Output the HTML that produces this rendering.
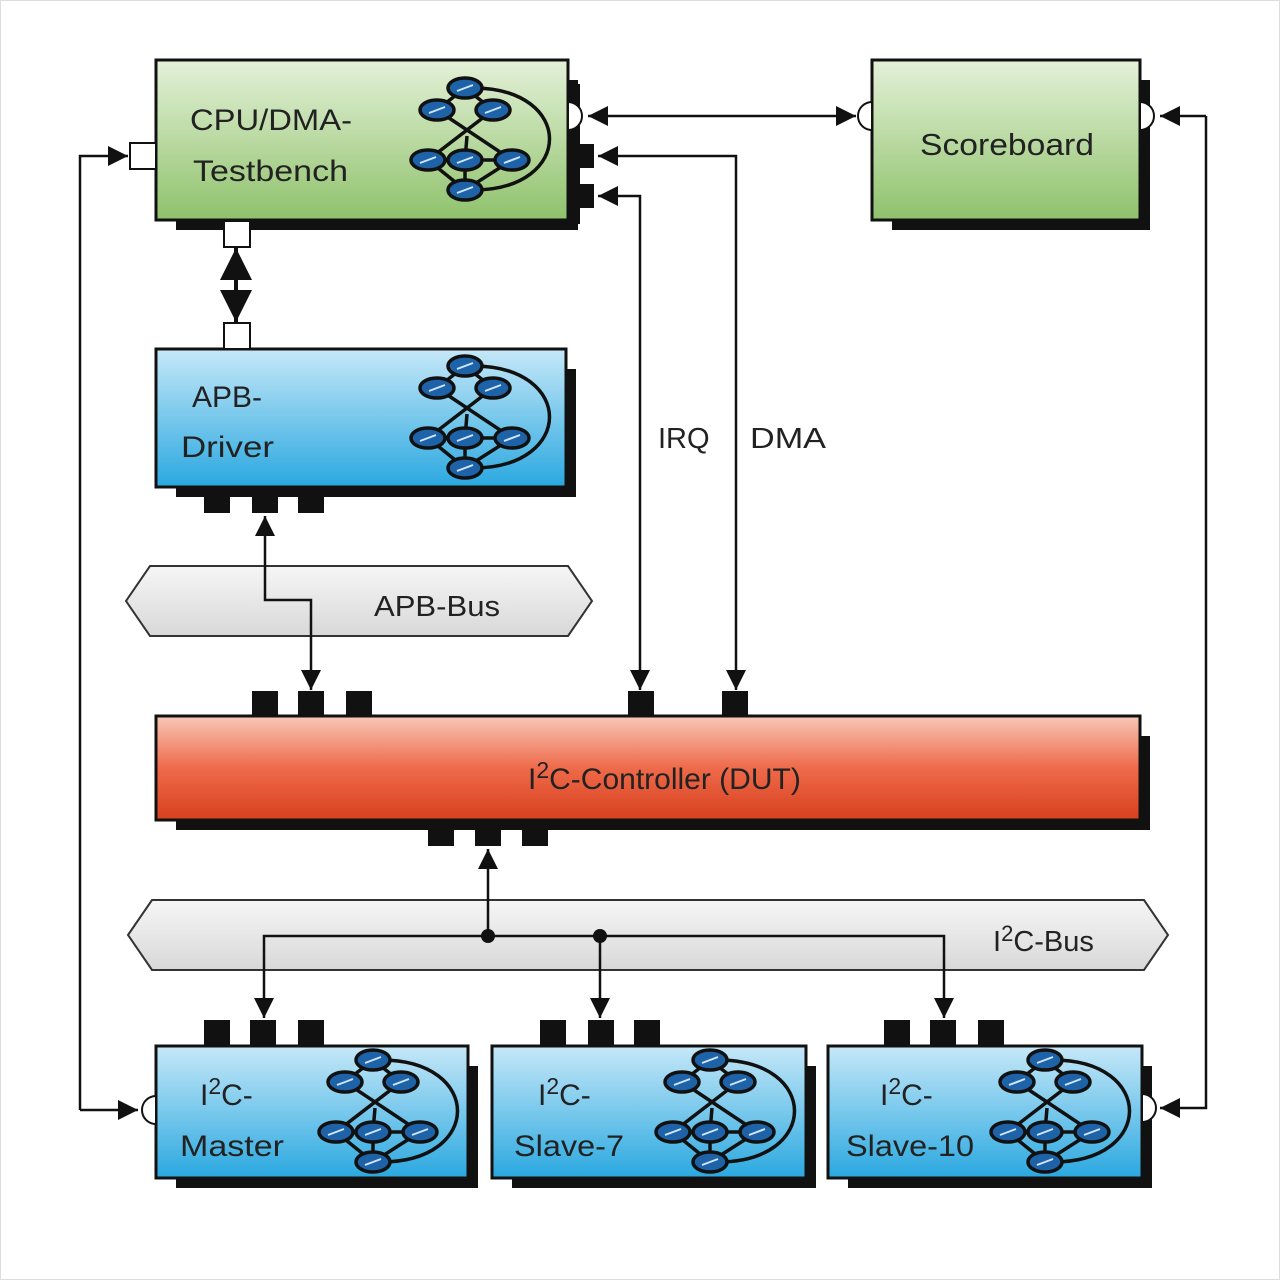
<!DOCTYPE html>
<html><head><meta charset="utf-8"><style>
html,body{margin:0;padding:0;background:#fff}
svg{display:block}
text{font-family:"Liberation Sans",sans-serif;fill:#222}
</style></head><body>
<svg width="1280" height="1280" viewBox="0 0 1280 1280" xmlns="http://www.w3.org/2000/svg">
<defs>
<linearGradient id="g" x1="0" y1="0" x2="0" y2="1"><stop offset="0" stop-color="#e4f1d8"/><stop offset="1" stop-color="#8fc26c"/></linearGradient>
<linearGradient id="b" x1="0" y1="0" x2="0" y2="1"><stop offset="0" stop-color="#c6e8f8"/><stop offset="1" stop-color="#2aa8e0"/></linearGradient>
<linearGradient id="r" x1="0" y1="0" x2="0" y2="1"><stop offset="0" stop-color="#f8c8b8"/><stop offset="0.5" stop-color="#ee6a4a"/><stop offset="1" stop-color="#d8401e"/></linearGradient>
<linearGradient id="gr" x1="0" y1="0" x2="0" y2="1"><stop offset="0" stop-color="#f6f6f6"/><stop offset="1" stop-color="#d8d8d8"/></linearGradient>
<marker id="a" viewBox="0 0 10 10" refX="10" refY="5" markerWidth="8" markerHeight="8" orient="auto-start-reverse"><path d="M0,0L10,5L0,10z" fill="#111"/></marker>
<g id="net" stroke="#111" stroke-width="3.5" fill="none">
<path d="M8,0 C110,0 110,102 8,102"/>
<path d="M0,0L-28,22M0,0L28,22M-28,22L47,72M28,22L-37,72M2,48L0,72M-37,72L0,102M47,72L0,102M0,72L0,102M-37,72L47,72"/>
<g fill="#1e62a8">
<ellipse cx="0" cy="0" rx="17" ry="10"/><ellipse cx="-28" cy="22" rx="17" ry="10"/><ellipse cx="28" cy="22" rx="17" ry="10"/>
<ellipse cx="-37" cy="72" rx="17" ry="10"/><ellipse cx="0" cy="72" rx="17" ry="10"/><ellipse cx="47" cy="72" rx="17" ry="10"/><ellipse cx="0" cy="102" rx="17" ry="10"/>
</g>
<g stroke="#cfe6ff" stroke-width="2"><path d="M-8,3L8,-3M-36,25L-20,19M20,25L36,19M-45,75L-29,69M-8,75L8,69M39,75L55,69M-8,105L8,99"/></g>
</g>
</defs>
<rect x="0.5" y="0.5" width="1279" height="1279" fill="none" stroke="#ddd"/>

<g stroke="#111" stroke-width="2.5" fill="none">
<path d="M80,1110V156H128" marker-end="url(#a)"/>
<path d="M80,1110H138" marker-end="url(#a)"/>
<path d="M1206,116V1108H1160" marker-end="url(#a)"/>
<path d="M1206,116H1160" marker-end="url(#a)"/>
<path d="M588,116H856" marker-start="url(#a)" marker-end="url(#a)"/>
<path d="M640,690V196H598" marker-start="url(#a)" marker-end="url(#a)"/>
<path d="M736,690V156H598" marker-start="url(#a)" marker-end="url(#a)"/>
<path d="M236,248V322" stroke-width="4" marker-start="url(#a)" marker-end="url(#a)"/>
</g>

<path d="M126,601L150,566H568L592,601L568,636H150Z" fill="url(#gr)" stroke="#333" stroke-width="2"/>
<text x="374" y="616" font-size="29" textLength="126" lengthAdjust="spacingAndGlyphs">APB-Bus</text>
<path d="M265,516V600H311V690" stroke="#111" stroke-width="2.5" fill="none" marker-start="url(#a)" marker-end="url(#a)"/>
<path d="M128,935L152,900H1144L1168,935L1144,970H152Z" fill="url(#gr)" stroke="#333" stroke-width="2"/>
<text x="993" y="951" font-size="29">I<tspan dy="-10" font-size="22">2</tspan><tspan dy="10">C-Bus</tspan></text>
<g stroke="#111" stroke-width="2.5" fill="none">
<path d="M488,936V849" marker-end="url(#a)"/>
<path d="M264,1018V936H944V1018" marker-start="url(#a)" marker-end="url(#a)"/>
<path d="M600,936V1018" marker-end="url(#a)"/>
</g>
<circle cx="488" cy="936" r="7" fill="#111"/><circle cx="600" cy="936" r="7" fill="#111"/>

<rect x="176" y="80" width="402" height="150" fill="#111"/>
<rect x="156" y="60" width="412" height="160" fill="url(#g)" stroke="#111" stroke-width="3"/>
<rect x="568" y="84" width="12" height="140" fill="#111"/>
<rect x="568" y="144" width="26" height="24" fill="#111"/><rect x="568" y="184" width="26" height="24" fill="#111"/>
<path d="M568,102A14,14 0 0 1 568,130Z" fill="#fff" stroke="#111" stroke-width="2"/>
<rect x="130" y="143" width="26" height="26" fill="#fff" stroke="#111" stroke-width="2"/>
<rect x="224" y="221" width="26" height="26" fill="#fff" stroke="#111" stroke-width="2"/>
<text x="190" y="130" font-size="30" textLength="162" lengthAdjust="spacingAndGlyphs">CPU/DMA-</text>
<text x="193" y="181" font-size="30" textLength="155" lengthAdjust="spacingAndGlyphs">Testbench</text>
<use href="#net" x="465" y="88"/>

<rect x="892" y="80" width="258" height="150" fill="#111"/>
<rect x="872" y="60" width="268" height="160" fill="url(#g)" stroke="#111" stroke-width="3"/>
<rect x="1140" y="84" width="10" height="140" fill="#111"/>
<path d="M872,102A14,14 0 0 0 872,130Z" fill="#fff" stroke="#111" stroke-width="2"/>
<path d="M1140,102A14,14 0 0 1 1140,130Z" fill="#fff" stroke="#111" stroke-width="2"/>
<text x="920" y="155" font-size="31" textLength="174" lengthAdjust="spacingAndGlyphs">Scoreboard</text>

<rect x="176" y="369" width="400" height="128" fill="#111"/>
<rect x="156" y="349" width="410" height="138" fill="url(#b)" stroke="#111" stroke-width="3"/>
<rect x="224" y="323" width="26" height="26" fill="#fff" stroke="#111" stroke-width="2"/>
<rect x="204" y="487" width="26" height="26" fill="#111"/><rect x="252" y="487" width="26" height="26" fill="#111"/><rect x="298" y="487" width="26" height="26" fill="#111"/>
<text x="192" y="407" font-size="30">APB-</text>
<text x="181" y="457" font-size="30" textLength="93" lengthAdjust="spacingAndGlyphs">Driver</text>
<use href="#net" x="465" y="366"/>

<text x="658" y="448" font-size="29">IRQ</text>
<text x="750" y="448" font-size="29" textLength="76" lengthAdjust="spacingAndGlyphs">DMA</text>

<rect x="176" y="736" width="974" height="94" fill="#111"/>
<rect x="156" y="716" width="984" height="104" fill="url(#r)" stroke="#111" stroke-width="3"/>
<g fill="#111">
<rect x="252" y="691" width="26" height="25"/><rect x="298" y="691" width="26" height="25"/><rect x="346" y="691" width="26" height="25"/>
<rect x="628" y="691" width="26" height="25"/><rect x="722" y="691" width="26" height="25"/>
<rect x="428" y="820" width="26" height="26"/><rect x="475" y="820" width="26" height="26"/><rect x="522" y="820" width="26" height="26"/>
</g>
<text x="528" y="789" font-size="30">I<tspan dy="-11" font-size="23">2</tspan><tspan dy="11">C-Controller (DUT)</tspan></text>

<g>
<rect x="176" y="1066" width="302" height="122" fill="#111"/>
<rect x="156" y="1046" width="312" height="132" fill="url(#b)" stroke="#111" stroke-width="3"/>
<rect x="468" y="1070" width="10" height="118" fill="#111"/>
<rect x="204" y="1020" width="26" height="26" fill="#111"/><rect x="250" y="1020" width="26" height="26" fill="#111"/><rect x="298" y="1020" width="26" height="26" fill="#111"/>
<path d="M156,1096A14,14 0 0 0 156,1124Z" fill="#fff" stroke="#111" stroke-width="2"/>
<text x="200" y="1105" font-size="30">I<tspan dy="-11" font-size="23">2</tspan><tspan dy="11">C-</tspan></text>
<text x="180" y="1156" font-size="30" textLength="104" lengthAdjust="spacingAndGlyphs">Master</text>
<use href="#net" x="373" y="1060"/>

<rect x="512" y="1066" width="304" height="122" fill="#111"/>
<rect x="492" y="1046" width="314" height="132" fill="url(#b)" stroke="#111" stroke-width="3"/>
<rect x="540" y="1020" width="26" height="26" fill="#111"/><rect x="588" y="1020" width="26" height="26" fill="#111"/><rect x="634" y="1020" width="26" height="26" fill="#111"/>
<text x="538" y="1105" font-size="30">I<tspan dy="-11" font-size="23">2</tspan><tspan dy="11">C-</tspan></text>
<text x="514" y="1156" font-size="30" textLength="110" lengthAdjust="spacingAndGlyphs">Slave-7</text>
<use href="#net" x="710" y="1060"/>

<rect x="848" y="1066" width="304" height="122" fill="#111"/>
<rect x="828" y="1046" width="314" height="132" fill="url(#b)" stroke="#111" stroke-width="3"/>
<rect x="884" y="1020" width="26" height="26" fill="#111"/><rect x="930" y="1020" width="26" height="26" fill="#111"/><rect x="978" y="1020" width="26" height="26" fill="#111"/>
<path d="M1142,1094A14,14 0 0 1 1142,1122Z" fill="#fff" stroke="#111" stroke-width="2"/>
<text x="880" y="1105" font-size="30">I<tspan dy="-11" font-size="23">2</tspan><tspan dy="11">C-</tspan></text>
<text x="846" y="1156" font-size="30" textLength="128" lengthAdjust="spacingAndGlyphs">Slave-10</text>
<use href="#net" x="1045" y="1060"/>
</g>
</svg>
</body></html>
